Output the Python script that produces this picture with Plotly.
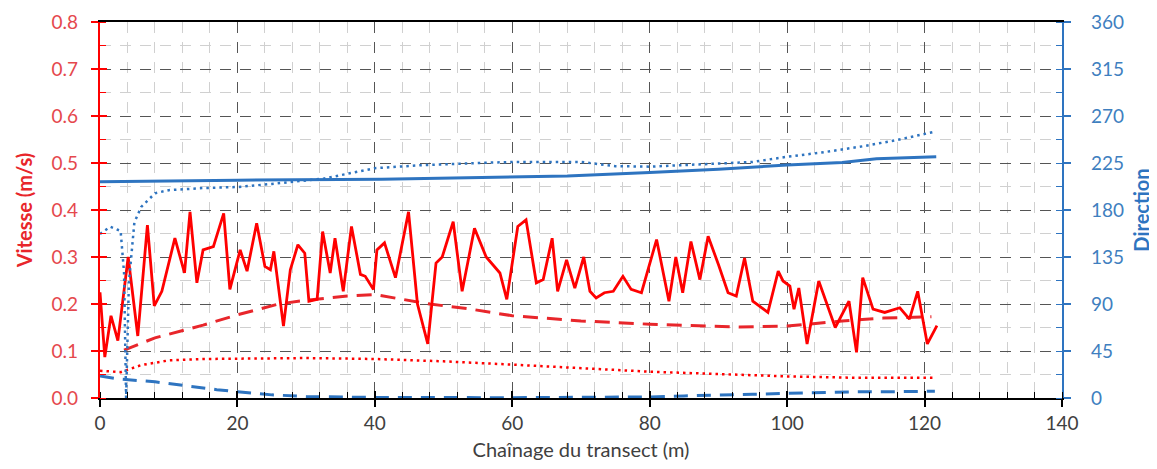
import plotly.graph_objects as go

# ---------------- data ----------------
# Vitesse (m/s) - solid red
x_speed = [0, 0.7, 1.6, 2.6, 4.1, 5.5, 6.9, 7.9, 9.0, 10.9,
           12.3, 13.1, 14.1, 15.0, 16.5, 18.0, 18.9, 20.4, 21.4, 22.8,
           24.0, 24.8, 25.3, 26.7, 27.7, 28.8, 29.8, 30.4, 31.6, 32.4,
           33.5, 34.2, 35.4, 36.6, 37.9, 38.6, 39.8, 40.3, 41.4, 43.0,
           44.9, 46.2, 47.7, 48.9, 49.8, 51.4, 52.7, 54.5, 56.2, 58.2,
           59.2, 60.8, 62.0, 63.5, 64.5, 65.8, 66.6, 67.9, 69.1, 70.4,
           71.3, 72.2, 73.4, 74.7, 76.1, 77.3, 78.8, 81.0, 82.8, 83.8,
           84.8, 86.0, 87.3, 88.5, 90.0, 91.4, 92.6, 93.8, 95.0, 97.2,
           98.7, 99.4, 100.4, 101.0, 101.7, 102.9, 104.6, 107.0, 109.0, 110.1,
           111.0, 112.5, 114.2, 116.4, 117.8, 119.0, 120.4, 121.8]
speed = [0.225, 0.087, 0.175, 0.122, 0.300, 0.132, 0.368, 0.196, 0.227, 0.340,
         0.266, 0.396, 0.245, 0.315, 0.322, 0.393, 0.231, 0.315, 0.270, 0.372,
         0.280, 0.273, 0.312, 0.153, 0.273, 0.326, 0.308, 0.206, 0.210, 0.354,
         0.266, 0.340, 0.227, 0.365, 0.263, 0.259, 0.231, 0.315, 0.330, 0.256,
         0.396, 0.200, 0.115, 0.287, 0.300, 0.375, 0.227, 0.361, 0.300, 0.266,
         0.210, 0.365, 0.379, 0.245, 0.252, 0.340, 0.227, 0.294, 0.234, 0.300,
         0.227, 0.213, 0.224, 0.227, 0.259, 0.231, 0.224, 0.337, 0.206, 0.300,
         0.224, 0.333, 0.252, 0.344, 0.284, 0.224, 0.217, 0.298, 0.206, 0.182,
         0.270, 0.249, 0.238, 0.189, 0.234, 0.115, 0.249, 0.150, 0.206, 0.097,
         0.256, 0.189, 0.182, 0.192, 0.168, 0.227, 0.115, 0.154]

# dashed red
x_speed_mean = [3.5, 8, 15, 20, 26, 30, 36, 40, 44, 48, 54, 60, 70, 80, 93, 100, 108, 114, 121]
speed_mean = [0.102, 0.128, 0.155, 0.177, 0.200, 0.208, 0.217, 0.220, 0.210, 0.200,
              0.189, 0.175, 0.164, 0.157, 0.151, 0.153, 0.164, 0.170, 0.173]

# dotted red
x_speed_dot = [0, 3, 6, 10, 15, 20, 30, 40, 50, 60, 70, 80, 90, 100, 110, 121.5]
speed_dot = [0.058, 0.055, 0.070, 0.080, 0.083, 0.084, 0.085, 0.083, 0.078, 0.071,
             0.064, 0.056, 0.051, 0.046, 0.043, 0.043]

# Direction - solid blue
x_dir = [0, 9.7, 20, 41, 56, 68, 80, 90, 100, 108, 113, 121.7]
direction = [207, 208, 208.5, 209.5, 211.5, 212.5, 216, 219, 223, 225.5, 229, 231]

# dotted blue
x_dir_dot = [0, 1.5, 3, 3.5, 3.8, 4.2, 5, 6, 8, 10, 15, 20, 25, 32.5, 40,
             47, 55, 60, 65, 70, 75, 80, 85, 90, 95, 100, 105, 111, 116, 121.5]
dir_dot = [157, 164, 160, 120, 0, 110, 168, 183, 196, 199, 201, 202, 205, 210, 220,
           223, 225, 226, 226, 226, 222, 221.5, 223, 224.5, 226, 231, 235, 241, 247, 255]

# dashed blue
x_dir_dash = [0, 3, 8, 13, 17, 20, 25, 30, 40, 60, 75, 80, 85, 90, 95, 100, 105, 110, 115, 121.5]
dir_dash = [21, 18, 15.5, 11, 8, 6, 3, 1.5, 0.5, 0.3, 0.5, 1, 2, 2.5, 3.5, 4.5, 5.5, 6, 6, 6.5]

# axes
x_range = [0, 140]
y_range = [0, 0.8]
y2_range = [0, 360]

RED = "#FF0000"
RED_TXT = "#E5484D"
BLUE = "#2E74C0"
BLUE_TXT = "#3F7FBF"
GRAY_TXT = "#404040"
FONT = "Lato, Carlito, sans-serif"

fig = go.Figure()
fig.add_trace(go.Scatter(x=x_speed_dot, y=speed_dot, mode="lines",
                         line=dict(color=RED, width=2.5, dash="2.5px,4px")))
fig.add_trace(go.Scatter(x=x_dir_dash, y=dir_dash, mode="lines", yaxis="y2",
                         line=dict(color=BLUE, width=3, dash="14px,9px")))
fig.add_trace(go.Scatter(x=x_dir_dot, y=dir_dot, mode="lines", yaxis="y2",
                         line=dict(color=BLUE, width=2.5, dash="2.5px,4px")))
fig.add_trace(go.Scatter(x=x_dir, y=direction, mode="lines", yaxis="y2",
                         line=dict(color=BLUE, width=3)))
fig.add_trace(go.Scatter(x=x_speed_mean, y=speed_mean, mode="lines",
                         line=dict(color="#E8262B", width=3, dash="15px,9px")))
fig.add_trace(go.Scatter(x=x_speed, y=speed, mode="lines",
                         line=dict(color=RED, width=2.8)))
# invisible trace to host the inside-tick overlay axes
fig.add_trace(go.Scatter(x=[0], y=[0], xaxis="x2", yaxis="y3", mode="markers",
                         marker=dict(opacity=0), hoverinfo="skip"))

MAJ_GRID = "#555555"
MIN_GRID = "#d0d0d0"

# the page body adds an 8px offset, so the figure is 8px smaller and margins shifted
fig.update_layout(
    width=1149, height=461,
    margin=dict(l=92, r=95, t=14, b=71),
    paper_bgcolor="white", plot_bgcolor="white",
    showlegend=False,
    font=dict(family=FONT, size=19, color=GRAY_TXT),
    xaxis=dict(
        range=x_range, tick0=0, dtick=20, showline=True, linecolor="black", linewidth=2,
        mirror=True, ticks="outside", ticklen=7, tickwidth=1.5, tickcolor="black",
        showgrid=True, gridcolor=MAJ_GRID, gridwidth=1.4, griddash="11px,9px",
        minor=dict(dtick=4, showgrid=True, gridcolor=MIN_GRID, gridwidth=1,
                   ticks="inside", ticklen=6, tickcolor="black", tickwidth=1),
        zeroline=False, automargin=False, ticklabelstandoff=0,
        tickfont=dict(size=19, color=GRAY_TXT),
        title=dict(text="Chaînage du transect (m)", font=dict(size=20, color=GRAY_TXT), standoff=10),
    ),
    xaxis2=dict(
        range=x_range, tick0=0, dtick=20, overlaying="x", anchor="y", side="bottom",
        showline=False, ticks="inside", ticklen=7, tickwidth=1.5, tickcolor="black",
        showticklabels=False, showgrid=False, zeroline=False, automargin=False,
    ),
    yaxis=dict(
        range=y_range, tick0=0, dtick=0.1, tickformat=".1f", showline=True,
        linecolor=RED, linewidth=2.2, ticks="outside", ticklen=7, tickwidth=1.5, tickcolor=RED,
        showgrid=True, gridcolor=MAJ_GRID, gridwidth=1.4, griddash="11px,9px",
        minor=dict(dtick=0.05, showgrid=True, gridcolor=MIN_GRID, gridwidth=1,
                   ticks="inside", ticklen=6, tickcolor=RED, tickwidth=1),
        zeroline=False, automargin=False, ticklabelstandoff=9,
        tickfont=dict(size=19, color=RED_TXT),
        title=dict(text="<b>Vitesse (m/s)</b>", font=dict(size=20, color="#E8262B"), standoff=14),
    ),
    yaxis3=dict(
        range=y_range, tick0=0, dtick=0.1, overlaying="y", anchor="x", side="left",
        showline=False, ticks="inside", ticklen=7, tickwidth=1.5, tickcolor=RED,
        showticklabels=False, showgrid=False, zeroline=False, automargin=False,
    ),
    yaxis2=dict(
        range=y2_range, tick0=0, dtick=45, overlaying="y", side="right", anchor="x",
        showline=True, linecolor=BLUE, linewidth=2.2, ticks="outside", ticklen=7,
        tickwidth=1.5, tickcolor=BLUE, showgrid=False, zeroline=False,
        minor=dict(dtick=22.5, ticks="inside", ticklen=6, tickcolor=BLUE, tickwidth=1, showgrid=False),
        automargin=False, ticklabelstandoff=16,
        tickfont=dict(size=19, color=BLUE_TXT),
        title=dict(text="<b>Direction</b>", font=dict(size=20, color=BLUE), standoff=12),
    ),
)

fig.write_html("out.html")
